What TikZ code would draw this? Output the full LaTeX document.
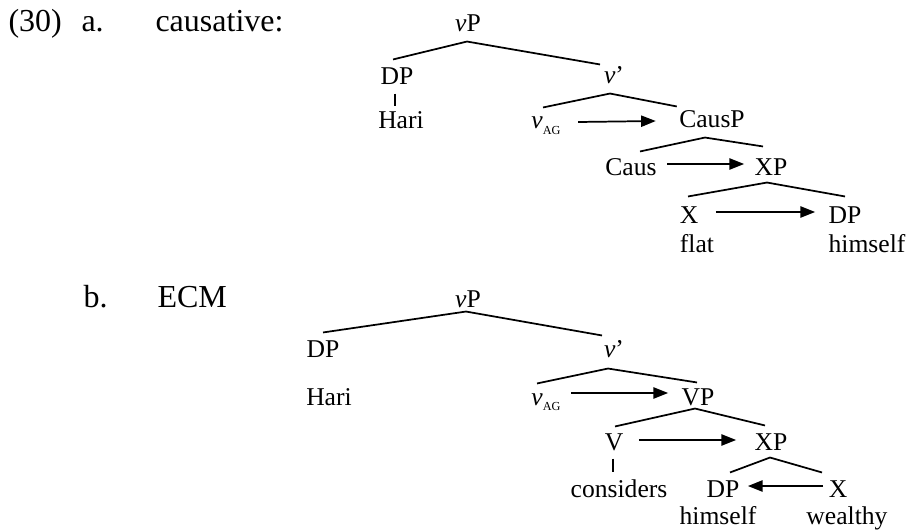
\documentclass[tikz,border=0pt]{standalone}
\usepackage{fontspec}
\setmainfont{Liberation Serif}
\usetikzlibrary{arrows.meta, positioning, calc}

\newcommand{\vAG}{\textit{v}\raisebox{-1.9pt}{\fontsize{4.6}{5}\selectfont AG}}

\begin{document}
\begin{tikzpicture}[
    x=0.375pt, y=-0.375pt, % one unit per pixel, y runs downwards
    every node/.style={inner sep=0pt},
    head/.style={anchor=base west, font=\fontsize{12}{14}\selectfont},
    cat/.style={
        anchor=base,
        text height=6pt,
        text depth=0pt,
        font=\fontsize{9.6}{11}\selectfont
    },
    branch/.style={line width=0.65pt},
    arrow/.style={
        line width=0.65pt,
        -{Triangle[length=5.5pt, width=4.2pt]}
    }
]
\useasboundingbox (0,0) rectangle (909,531);

% Example labels
\node[head] (num) at (8,32) {(30)};
\node[head] (itema) at (81,32) {a.};
\node[head] (typea) at (155,32) {causative:};
\node[head] (itemb) at (83,307) {b.};
\node[head] (typeb) at (157,307) {ECM};

% (a) causative tree
\node[cat] (vPa) at (468,32) {\textit{v}P};
\node[cat] (DPa) at (397,85) {DP};
\node[cat] (Haria) at (401,129) {Hari};
\node[cat] (vbara) at (614,84) {\textit{v}’};
\node[cat] (vAGa) at (546,129) {\vAG};
\node[cat] (CausPa) at (712,128) {CausP};
\node[cat] (Causa) at (631,175) {Caus};
\node[cat] (XPa) at (771,175) {XP};
\node[cat] (Xa) at (689,223) {X};
\node[cat] (DPb) at (845,223) {DP};
\node[cat] (flat) at (697,252) {flat};
\node[cat] (himselfa) at (867,252) {himself};

% branches
\draw[branch] ($(DPa.north)+(-4,-9)$) -- ($(vPa.south)+(-1,9)$) -- ($(vbara.north)+(-14,-3)$);
\draw[branch] ($(DPa.south)+(-2,8)$) -- ($(Haria.north)+(-6,-6)$);
\draw[branch] ($(vAGa.north)+(-3,-5)$) -- ($(vbara.south)+(-4,9)$) -- ($(CausPa.north west)+(-2,-5)$);
\draw[branch] ($(Causa.north)+(9,-7)$) -- ($(CausPa.south)+(-7,9)$) -- ($(XPa.north)+(-8,-12)$);
\draw[branch] ($(Xa.north)+(-1,-10)$) -- ($(XPa.south)+(-4,7)$) -- ($(DPb.north)+(0,-10)$);

% movement arrows
\draw[arrow] ($(vAGa.east)+(17,1)$) -- ($(CausPa.west)+(-23,1)$);
\draw[arrow] ($(Causa.east)+(10,-3)$) -- ($(XPa.west)+(-10,-3)$);
\draw[arrow] ($(Xa.east)+(17,-3)$) -- ($(DPb.west)+(-13,-3)$);

% (b) ECM tree
\node[cat] (vPb) at (468,307) {\textit{v}P};
\node[cat] (DPc) at (323,357) {DP};
\node[cat] (Harib) at (329,405) {Hari};
\node[cat] (vbarb) at (614,357) {\textit{v}’};
\node[cat] (vAGb) at (546,405) {\vAG};
\node[cat] (VPb) at (698,405) {VP};
\node[cat] (Vb) at (614,450) {V};
\node[cat] (XPb) at (771,450) {XP};
\node[cat] (considers) at (619,497) {considers};
\node[cat] (DPd) at (723,497) {DP};
\node[cat] (Xb) at (838,497) {X};
\node[cat] (himselfb) at (718,524) {himself};
\node[cat] (wealthy) at (847,524) {wealthy};

% branches
\draw[branch] ($(DPc.north)+(0,-8)$) -- ($(vPb.south)+(-2,4)$) -- ($(vbarb.north)+(-12,-5)$);
\draw[branch] ($(vAGb.north)+(-9,-5)$) -- ($(vbarb.south)+(-6,11)$) -- ($(VPb.north)+(-1,-6)$);
\draw[branch] ($(Vb.north)+(1,-7)$) -- ($(VPb.south)+(-3,3)$) -- ($(XPb.north)+(-6,-8)$);
\draw[branch] ($(Vb.south)+(-1,8)$) -- ($(considers.north)+(-6,-8)$);
\draw[branch] ($(DPd.north)+(7,-8)$) -- ($(XPb.south)+(-1,7)$) -- ($(Xb.north)+(-16,-8)$);

% movement arrows
\draw[arrow] ($(vAGb.east)+(10,-4)$) -- ($(VPb.west)+(-13,-4)$);
\draw[arrow] ($(Vb.east)+(15,-2)$) -- ($(XPb.west)+(-18,-2)$);
\draw[arrow] ($(Xb.west)+(-5,-3)$) -- ($(DPd.east)+(8,-3)$);

\end{tikzpicture}
\end{document}
